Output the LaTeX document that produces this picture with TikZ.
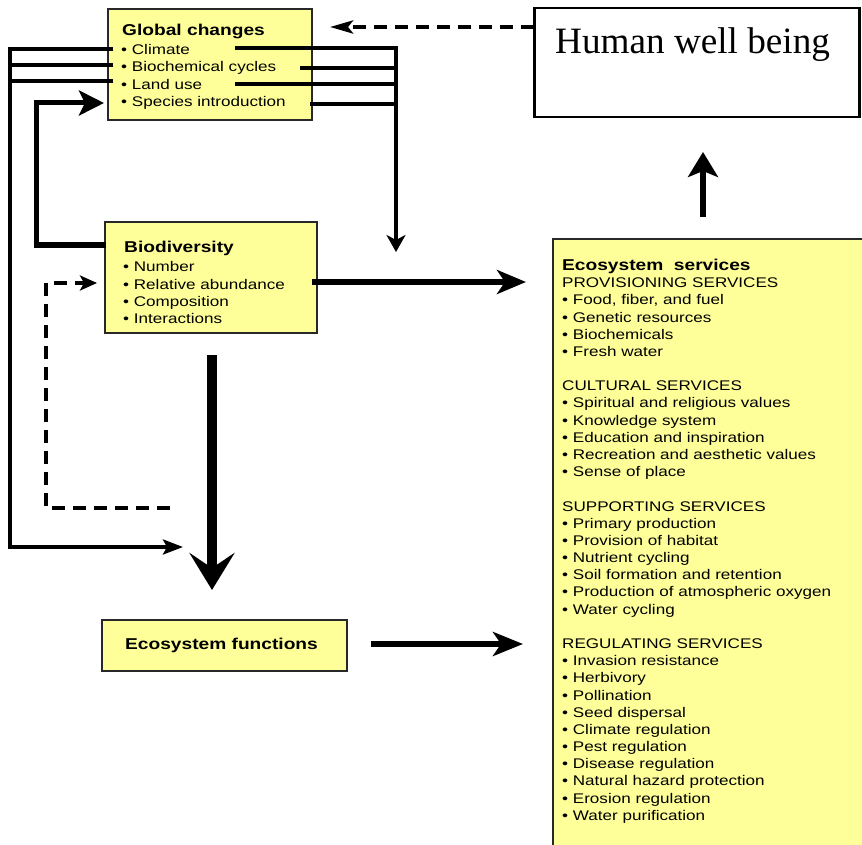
\documentclass[tikz,border=0pt]{standalone}
\usepackage{fontspec}
\setmainfont{Liberation Sans}
\newfontfamily\bodyfont[FakeStretch=1.22]{Liberation Sans}
\newfontfamily\hwfont{Liberation Serif}
\usetikzlibrary{arrows.meta}
\definecolor{boxyellow}{RGB}{255,255,153}
\definecolor{boxedge}{RGB}{40,40,40}
\begin{document}
\begin{tikzpicture}[x=1pt,y=-1pt,
  ybox/.style={draw=boxedge, line width=1.5pt, fill=boxyellow, inner sep=0pt, rectangle},
  txt/.style={anchor=base west, inner sep=0pt, font=\bodyfont\fontsize{14}{17}\selectfont},
  ttl/.style={anchor=base west, inner sep=0pt, font=\bodyfont\bfseries\fontsize{15.7}{19}\selectfont},
  conn/.style={line width=3.5pt, line join=miter},
  dashconn/.style={line width=4pt, dash pattern=on 13pt off 8pt}
]
\useasboundingbox (0,0) rectangle (862,845);
\clip (0,0) rectangle (862,845);

% boxes
\node[ybox, minimum width=204pt, minimum height=111pt] (gc) at (210,64.5) {};
\node[ybox, minimum width=212pt, minimum height=111pt] (bd) at (211,277.5) {};
\node[ybox, minimum width=245pt, minimum height=51pt] (ef) at (224.5,645.5) {};
\node[ybox, line width=2pt, minimum width=330pt, minimum height=630pt] (es) at (718,554) {};
\node[draw=black, line width=2.5pt, fill=white, inner sep=0pt, minimum width=325pt, minimum height=109pt] (hw) at (697,62.5) {};

% Global changes text
\node[ttl] (gct) at (122,36) {Global changes};
\node[txt] (gc1) at (121,54.5) {• Climate};
\node[txt] (gc2) at (121,72) {• Biochemical cycles};
\node[txt] (gc3) at (121,89.5) {• Land use};
\node[txt] (gc4) at (121,107) {• Species introduction};

% Biodiversity text
\node[ttl] (bdt) at (124,252.5) {Biodiversity};
\node[txt] (bd1) at (123,271.5) {• Number};
\node[txt] (bd2) at (123,289) {• Relative abundance};
\node[txt] (bd3) at (123,306.5) {• Composition};
\node[txt] (bd4) at (123,323.5) {• Interactions};

% Ecosystem functions
\node[ttl] (eft) at (125,649) {Ecosystem functions};

% Human well being
\node[anchor=base west, inner sep=0pt, font=\hwfont\fontsize{37.2}{40}\selectfont] (hwt) at (555,53.3) {Human well being};

% Ecosystem services text
\node[ttl] (es0) at (562,270.5) {Ecosystem~~services};
\foreach \i/\t in {1/PROVISIONING SERVICES, {2/• Food, fiber, and fuel}, 3/• Genetic resources,
  4/• Biochemicals, 5/• Fresh water, 7/CULTURAL SERVICES, 8/• Spiritual and religious values,
  9/• Knowledge system, 10/• Education and inspiration, 11/• Recreation and aesthetic values,
  12/• Sense of place, 14/SUPPORTING SERVICES, 15/• Primary production, 16/• Provision of habitat,
  17/• Nutrient cycling, 18/• Soil formation and retention, 19/• Production of atmospheric oxygen,
  20/• Water cycling, 22/REGULATING SERVICES, 23/• Invasion resistance, 24/• Herbivory,
  25/• Pollination, 26/• Seed dispersal, 27/• Climate regulation, 28/• Pest regulation,
  29/• Disease regulation, 30/• Natural hazard protection, 31/• Erosion regulation,
  32/• Water purification}
  \node[txt] (es\i) at (562,270.5+\i*17.18) {\t};

% coordinates for connectors
\coordinate (gcL1) at (113,49);
\coordinate (gcL2) at (113,65);
\coordinate (gcL3) at (113,81);
\coordinate (lc1) at (10,49);
\coordinate (lc2) at (10,547);
\coordinate (lc3) at (10,65);
\coordinate (lc4) at (10,81);
\coordinate (efin) at (183,547);

\coordinate (gcR1) at (235,48);
\coordinate (gcR2) at (300,68);
\coordinate (gcR3) at (235,84);
\coordinate (gcR4) at (310,104);
\coordinate (rv1) at (396,48);
\coordinate (rv2) at (396,68);
\coordinate (rv3) at (396,84);
\coordinate (rv4) at (396,104);
\coordinate (rtop) at (396,46.5);
\coordinate (rtip) at (396,252);

\coordinate (bdL) at (106,245);
\coordinate (bc1) at (36,245);
\coordinate (bc2) at (36,103);
\coordinate (gcin) at (104,103);

\coordinate (dstart) at (170,508);
\coordinate (dc1) at (46,508);
\coordinate (dc2) at (46,283);
\coordinate (bdin) at (97,283);

\coordinate (bdS) at (212,355);
\coordinate (efN) at (212,590);
\coordinate (bdR) at (312,282);
\coordinate (esL1) at (526,282);
\coordinate (efR) at (371,644);
\coordinate (esL2) at (523,644);
\coordinate (esT) at (703,217);
\coordinate (hwB) at (703,152);
\coordinate (hwL) at (534,27);
\coordinate (gcR) at (330,27);

% left bracket lines
\draw[conn, -{Stealth[length=20pt,width=15pt,inset=4pt]}] (gcL1) -- (lc1) -- (lc2) -- (efin);
\draw[conn] (gcL2) -- (lc3);
\draw[conn] (gcL3) -- (lc4);

% right bracket lines
\draw[conn] (gcR1) -- (rv1);
\draw[conn] (gcR2) -- (rv2);
\draw[conn] (gcR3) -- (rv3);
\draw[conn] (gcR4) -- (rv4);
\draw[line width=4.5pt, -{Stealth[length=17pt,width=19pt,inset=5pt]}] (rtop) -- (rtip);

% biodiversity -> global changes
\draw[line width=5pt, line join=miter, -{Stealth[length=25pt,width=25pt,inset=6pt]}] (bdL) -- (bc1) -- (bc2) -- (gcin);

% dashed feedback into biodiversity
\draw[dashconn, line join=miter, -{Stealth[length=17pt,width=15pt,inset=4pt]}] (dstart) -- (dc1) -- (dc2) -- (bdin);

% big down arrow
\draw[line width=10pt, -{Stealth[length=37pt,width=45pt,inset=15pt]}] (bdS) -- (efN);

% to ecosystem services
\draw[line width=6pt, -{Stealth[length=29pt,width=24pt,inset=8pt]}] (bdR) -- (esL1);
\draw[line width=6pt, -{Stealth[length=30pt,width=24pt,inset=8pt]}] (efR) -- (esL2);

% up to human well being
\draw[line width=6pt, -{Stealth[length=25pt,width=30pt,inset=6pt]}] (esT) -- (hwB);

% dashed human well being -> global changes
\draw[dashconn, -{Stealth[length=23pt,width=13pt,inset=5pt]}] (hwL) -- (gcR);
\end{tikzpicture}
\end{document}
